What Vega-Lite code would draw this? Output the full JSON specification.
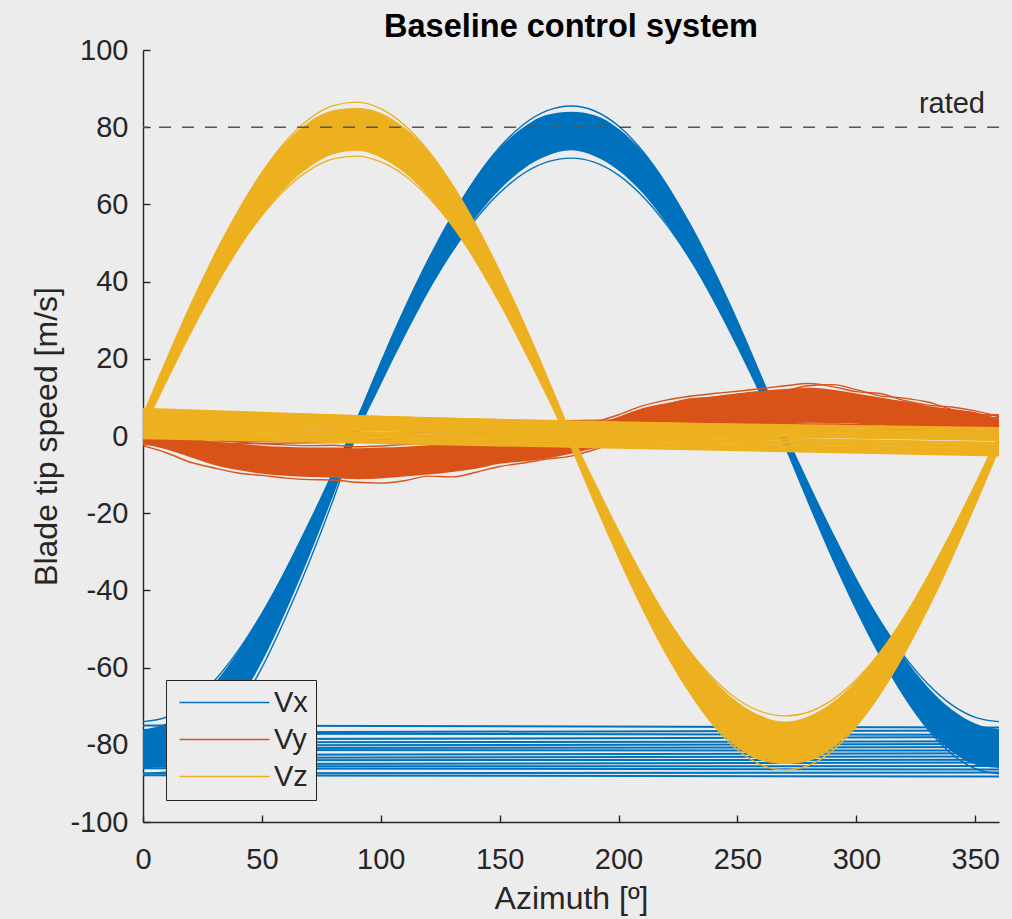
{
 "$schema": "https://vega.github.io/schema/vega-lite/v6.json",
 "width": 856,
 "height": 772,
 "autosize": "none",
 "padding": {"left": 143, "top": 50, "right": 13, "bottom": 97},
 "background": "#ECECEC",
 "config": {
  "view": {"stroke": null},
  "font": "Liberation Sans",
  "axis": {"grid": false, "domainColor": "#262626", "domainWidth": 1.4, "tickColor": "#262626", "tickWidth": 1.4, "tickSize": -7, "labelFontSize": 29, "labelColor": "#262626", "labelFont": "Liberation Sans", "titleFont": "Liberation Sans", "titleFontSize": 32, "titleFontWeight": "normal", "titleColor": "#262626", "labelFlush": false, "labelExpr": "'' + datum.value"},
  "axisX": {"labelPadding": 30, "titlePadding": 9},
  "axisY": {"labelPadding": 22, "titlePadding": 6}
 },
 "title": {"text": "Baseline control system", "fontSize": 32.5, "fontWeight": "bold", "font": "Liberation Sans", "color": "#000000", "anchor": "middle", "frame": "group", "offset": 4, "dy": 11},
 "datasets": {
  "band": [
   {"c":"Vx","a":0,"lo":-86.0,"hi":-76.0},{"c":"Vx","a":10,"lo":-85.5,"hi":-74.4},{"c":"Vx","a":20,"lo":-82.5,"hi":-70.4},{"c":"Vx","a":30,"lo":-76.5,"hi":-64.1},{"c":"Vx","a":40,"lo":-69.0,"hi":-55.8},{"c":"Vx","a":50,"lo":-58.5,"hi":-45.7},{"c":"Vx","a":60,"lo":-45.5,"hi":-34.3},{"c":"Vx","a":70,"lo":-31.0,"hi":-21.9},{"c":"Vx","a":80,"lo":-15.5,"hi":-8.9},{"c":"Vx","a":90,"lo":0.3,"hi":4.9},{"c":"Vx","a":100,"lo":13.3,"hi":19.5},{"c":"Vx","a":110,"lo":25.7,"hi":33.4},{"c":"Vx","a":120,"lo":37.3,"hi":46.1},{"c":"Vx","a":130,"lo":47.6,"hi":57.4},{"c":"Vx","a":140,"lo":56.6,"hi":67.0},{"c":"Vx","a":150,"lo":63.8,"hi":74.6},{"c":"Vx","a":160,"lo":69.2,"hi":80.0},{"c":"Vx","a":170,"lo":72.6,"hi":83.2},{"c":"Vx","a":180,"lo":74.0,"hi":84.0},{"c":"Vx","a":190,"lo":72.5,"hi":83.1},{"c":"Vx","a":200,"lo":68.8,"hi":79.6},{"c":"Vx","a":210,"lo":63.0,"hi":73.7},{"c":"Vx","a":220,"lo":55.2,"hi":65.5},{"c":"Vx","a":230,"lo":45.7,"hi":55.3},{"c":"Vx","a":240,"lo":34.8,"hi":43.4},{"c":"Vx","a":250,"lo":22.8,"hi":30.2},{"c":"Vx","a":260,"lo":10.1,"hi":15.9},{"c":"Vx","a":270,"lo":-3.2,"hi":1.2},{"c":"Vx","a":280,"lo":-17.9,"hi":-12.1},{"c":"Vx","a":290,"lo":-32.2,"hi":-24.8},{"c":"Vx","a":300,"lo":-45.4,"hi":-36.8},{"c":"Vx","a":310,"lo":-57.3,"hi":-47.7},{"c":"Vx","a":320,"lo":-67.5,"hi":-57.2},{"c":"Vx","a":330,"lo":-75.7,"hi":-65.0},{"c":"Vx","a":340,"lo":-81.6,"hi":-70.8},{"c":"Vx","a":350,"lo":-85.1,"hi":-74.5},{"c":"Vx","a":360,"lo":-86.0,"hi":-76.0},
   {"c":"Vy","a":0,"lo":-2.0,"hi":1.0},{"c":"Vy","a":10,"lo":-3.5,"hi":0.0},{"c":"Vy","a":20,"lo":-5.5,"hi":-0.5},{"c":"Vy","a":30,"lo":-7.5,"hi":-1.5},{"c":"Vy","a":40,"lo":-8.8,"hi":-2.0},{"c":"Vy","a":50,"lo":-9.8,"hi":-2.5},{"c":"Vy","a":60,"lo":-10.3,"hi":-2.8},{"c":"Vy","a":70,"lo":-10.6,"hi":-3.0},{"c":"Vy","a":80,"lo":-10.8,"hi":-3.0},{"c":"Vy","a":90,"lo":-11.2,"hi":-3.2},{"c":"Vy","a":100,"lo":-11.0,"hi":-3.0},{"c":"Vy","a":110,"lo":-10.5,"hi":-2.8},{"c":"Vy","a":120,"lo":-10.0,"hi":-2.4},{"c":"Vy","a":130,"lo":-9.3,"hi":-2.0},{"c":"Vy","a":140,"lo":-8.5,"hi":-1.6},{"c":"Vy","a":150,"lo":-7.2,"hi":-1.0},{"c":"Vy","a":160,"lo":-6.6,"hi":-0.5},{"c":"Vy","a":170,"lo":-5.8,"hi":0.0},{"c":"Vy","a":180,"lo":-4.6,"hi":1.0},{"c":"Vy","a":190,"lo":-3.2,"hi":2.8},{"c":"Vy","a":200,"lo":-1.8,"hi":5.0},{"c":"Vy","a":210,"lo":-0.5,"hi":7.2},{"c":"Vy","a":220,"lo":0.5,"hi":8.5},{"c":"Vy","a":230,"lo":1.5,"hi":9.5},{"c":"Vy","a":240,"lo":2.0,"hi":10.3},{"c":"Vy","a":250,"lo":2.5,"hi":11.0},{"c":"Vy","a":260,"lo":3.0,"hi":11.7},{"c":"Vy","a":270,"lo":3.2,"hi":12.2},{"c":"Vy","a":280,"lo":3.5,"hi":12.5},{"c":"Vy","a":290,"lo":3.4,"hi":12.0},{"c":"Vy","a":300,"lo":3.2,"hi":11.0},{"c":"Vy","a":310,"lo":2.8,"hi":10.0},{"c":"Vy","a":320,"lo":2.2,"hi":9.0},{"c":"Vy","a":330,"lo":1.8,"hi":7.8},{"c":"Vy","a":340,"lo":1.2,"hi":7.0},{"c":"Vy","a":350,"lo":0.5,"hi":6.0},{"c":"Vy","a":360,"lo":0.0,"hi":4.5},
   {"c":"Vz","a":0,"lo":1.3,"hi":5.9},{"c":"Vz","a":10,"lo":14.0,"hi":20.4},{"c":"Vz","a":20,"lo":26.3,"hi":34.3},{"c":"Vz","a":30,"lo":37.8,"hi":47.2},{"c":"Vz","a":40,"lo":48.2,"hi":58.6},{"c":"Vz","a":50,"lo":57.1,"hi":68.4},{"c":"Vz","a":60,"lo":64.4,"hi":76.0},{"c":"Vz","a":70,"lo":69.7,"hi":81.5},{"c":"Vz","a":80,"lo":73.0,"hi":84.4},{"c":"Vz","a":90,"lo":73.9,"hi":85.0},{"c":"Vz","a":100,"lo":72.1,"hi":83.7},{"c":"Vz","a":110,"lo":68.2,"hi":79.9},{"c":"Vz","a":120,"lo":62.2,"hi":73.8},{"c":"Vz","a":130,"lo":54.4,"hi":65.4},{"c":"Vz","a":140,"lo":44.9,"hi":55.1},{"c":"Vz","a":150,"lo":34.1,"hi":43.1},{"c":"Vz","a":160,"lo":22.3,"hi":29.9},{"c":"Vz","a":170,"lo":9.9,"hi":15.7},{"c":"Vz","a":180,"lo":-3.3,"hi":1.1},{"c":"Vz","a":190,"lo":-17.9,"hi":-11.8},{"c":"Vz","a":200,"lo":-31.9,"hi":-24.2},{"c":"Vz","a":210,"lo":-45.0,"hi":-35.8},{"c":"Vz","a":220,"lo":-56.8,"hi":-46.5},{"c":"Vz","a":230,"lo":-66.8,"hi":-55.7},{"c":"Vz","a":240,"lo":-74.8,"hi":-63.2},{"c":"Vz","a":250,"lo":-80.7,"hi":-68.9},{"c":"Vz","a":260,"lo":-84.1,"hi":-72.5},{"c":"Vz","a":270,"lo":-85.0,"hi":-74.0},{"c":"Vz","a":280,"lo":-84.2,"hi":-72.6},{"c":"Vz","a":290,"lo":-80.8,"hi":-69.0},{"c":"Vz","a":300,"lo":-75.0,"hi":-63.4},{"c":"Vz","a":310,"lo":-67.0,"hi":-55.9},{"c":"Vz","a":320,"lo":-57.0,"hi":-46.7},{"c":"Vz","a":330,"lo":-45.3,"hi":-36.1},{"c":"Vz","a":340,"lo":-32.3,"hi":-24.5},{"c":"Vz","a":350,"lo":-18.3,"hi":-12.1},{"c":"Vz","a":360,"lo":-3.7,"hi":0.7}
  ],
  "lines": [
   {"c":"Vx","k":"x1","a":0,"v":-87.5},{"c":"Vx","k":"x1","a":10,"v":-87.0},{"c":"Vx","k":"x1","a":20,"v":-84.0},{"c":"Vx","k":"x1","a":30,"v":-78.0},{"c":"Vx","k":"x1","a":40,"v":-70.5},{"c":"Vx","k":"x1","a":50,"v":-60.0},{"c":"Vx","k":"x1","a":60,"v":-47.0},{"c":"Vx","k":"x1","a":70,"v":-32.5},{"c":"Vx","k":"x1","a":80,"v":-16.5},{"c":"Vx","k":"x1","a":90,"v":1.0},{"c":"Vx","k":"x1","a":100,"v":17.7},{"c":"Vx","k":"x1","a":110,"v":31.9},{"c":"Vx","k":"x1","a":120,"v":45.1},{"c":"Vx","k":"x1","a":130,"v":56.8},{"c":"Vx","k":"x1","a":140,"v":66.8},{"c":"Vx","k":"x1","a":150,"v":74.8},{"c":"Vx","k":"x1","a":160,"v":80.7},{"c":"Vx","k":"x1","a":170,"v":84.3},{"c":"Vx","k":"x1","a":180,"v":85.5},{"c":"Vx","k":"x1","a":190,"v":84.2},{"c":"Vx","k":"x1","a":200,"v":80.3},{"c":"Vx","k":"x1","a":210,"v":73.9},{"c":"Vx","k":"x1","a":220,"v":65.3},{"c":"Vx","k":"x1","a":230,"v":54.6},{"c":"Vx","k":"x1","a":240,"v":42.3},{"c":"Vx","k":"x1","a":250,"v":28.6},{"c":"Vx","k":"x1","a":260,"v":14.0},{"c":"Vx","k":"x1","a":270,"v":-1.0},{"c":"Vx","k":"x1","a":280,"v":-16.0},{"c":"Vx","k":"x1","a":290,"v":-30.6},{"c":"Vx","k":"x1","a":300,"v":-44.3},{"c":"Vx","k":"x1","a":310,"v":-56.6},{"c":"Vx","k":"x1","a":320,"v":-67.3},{"c":"Vx","k":"x1","a":330,"v":-75.9},{"c":"Vx","k":"x1","a":340,"v":-82.3},{"c":"Vx","k":"x1","a":350,"v":-86.2},{"c":"Vx","k":"x1","a":360,"v":-87.5},
   {"c":"Vx","k":"x2","a":0,"v":-74.0},{"c":"Vx","k":"x2","a":10,"v":-72.8},{"c":"Vx","k":"x2","a":20,"v":-69.2},{"c":"Vx","k":"x2","a":30,"v":-63.4},{"c":"Vx","k":"x2","a":40,"v":-55.6},{"c":"Vx","k":"x2","a":50,"v":-46.0},{"c":"Vx","k":"x2","a":60,"v":-35.1},{"c":"Vx","k":"x2","a":70,"v":-23.1},{"c":"Vx","k":"x2","a":80,"v":-10.6},{"c":"Vx","k":"x2","a":90,"v":2.2},{"c":"Vx","k":"x2","a":100,"v":14.8},{"c":"Vx","k":"x2","a":110,"v":26.8},{"c":"Vx","k":"x2","a":120,"v":37.9},{"c":"Vx","k":"x2","a":130,"v":47.8},{"c":"Vx","k":"x2","a":140,"v":56.2},{"c":"Vx","k":"x2","a":150,"v":63.0},{"c":"Vx","k":"x2","a":160,"v":68.0},{"c":"Vx","k":"x2","a":170,"v":71.0},{"c":"Vx","k":"x2","a":180,"v":72.0},{"c":"Vx","k":"x2","a":190,"v":70.9},{"c":"Vx","k":"x2","a":200,"v":67.6},{"c":"Vx","k":"x2","a":210,"v":62.2},{"c":"Vx","k":"x2","a":220,"v":54.9},{"c":"Vx","k":"x2","a":230,"v":45.9},{"c":"Vx","k":"x2","a":240,"v":35.5},{"c":"Vx","k":"x2","a":250,"v":24.0},{"c":"Vx","k":"x2","a":260,"v":11.7},{"c":"Vx","k":"x2","a":270,"v":-1.0},{"c":"Vx","k":"x2","a":280,"v":-13.7},{"c":"Vx","k":"x2","a":290,"v":-26.0},{"c":"Vx","k":"x2","a":300,"v":-37.5},{"c":"Vx","k":"x2","a":310,"v":-47.9},{"c":"Vx","k":"x2","a":320,"v":-56.9},{"c":"Vx","k":"x2","a":330,"v":-64.2},{"c":"Vx","k":"x2","a":340,"v":-69.6},{"c":"Vx","k":"x2","a":350,"v":-72.9},{"c":"Vx","k":"x2","a":360,"v":-74.0},
   {"c":"Vy","k":"y1","a":0,"v":-2.5},{"c":"Vy","k":"y1","a":10,"v":-4.4},{"c":"Vy","k":"y1","a":20,"v":-6.8},{"c":"Vy","k":"y1","a":30,"v":-8.3},{"c":"Vy","k":"y1","a":40,"v":-9.6},{"c":"Vy","k":"y1","a":50,"v":-10.2},{"c":"Vy","k":"y1","a":60,"v":-10.9},{"c":"Vy","k":"y1","a":70,"v":-11.3},{"c":"Vy","k":"y1","a":80,"v":-11.4},{"c":"Vy","k":"y1","a":90,"v":-12.0},{"c":"Vy","k":"y1","a":100,"v":-12.2},{"c":"Vy","k":"y1","a":110,"v":-11.6},{"c":"Vy","k":"y1","a":120,"v":-10.4},{"c":"Vy","k":"y1","a":130,"v":-10.6},{"c":"Vy","k":"y1","a":140,"v":-9.4},{"c":"Vy","k":"y1","a":150,"v":-7.9},{"c":"Vy","k":"y1","a":160,"v":-7.0},{"c":"Vy","k":"y1","a":170,"v":-6.0},{"c":"Vy","k":"y1","a":180,"v":-5.2},{"c":"Vy","k":"y1","a":190,"v":-3.5},{"c":"Vy","k":"y1","a":200,"v":-1.5},{"c":"Vy","k":"y1","a":210,"v":0.0},{"c":"Vy","k":"y1","a":220,"v":1.2},{"c":"Vy","k":"y1","a":230,"v":2.0},{"c":"Vy","k":"y1","a":240,"v":2.3},{"c":"Vy","k":"y1","a":250,"v":2.6},{"c":"Vy","k":"y1","a":260,"v":2.8},{"c":"Vy","k":"y1","a":270,"v":3.0},{"c":"Vy","k":"y1","a":280,"v":3.0},{"c":"Vy","k":"y1","a":290,"v":3.1},{"c":"Vy","k":"y1","a":300,"v":2.9},{"c":"Vy","k":"y1","a":310,"v":2.5},{"c":"Vy","k":"y1","a":320,"v":2.0},{"c":"Vy","k":"y1","a":330,"v":1.6},{"c":"Vy","k":"y1","a":340,"v":1.0},{"c":"Vy","k":"y1","a":350,"v":0.4},{"c":"Vy","k":"y1","a":360,"v":-0.2},
   {"c":"Vy","k":"y2","a":0,"v":1.5},{"c":"Vy","k":"y2","a":10,"v":0.8},{"c":"Vy","k":"y2","a":20,"v":-0.2},{"c":"Vy","k":"y2","a":30,"v":-1.0},{"c":"Vy","k":"y2","a":40,"v":-1.6},{"c":"Vy","k":"y2","a":50,"v":-2.0},{"c":"Vy","k":"y2","a":60,"v":-2.3},{"c":"Vy","k":"y2","a":70,"v":-2.5},{"c":"Vy","k":"y2","a":80,"v":-2.4},{"c":"Vy","k":"y2","a":90,"v":-2.8},{"c":"Vy","k":"y2","a":100,"v":-2.6},{"c":"Vy","k":"y2","a":110,"v":-2.2},{"c":"Vy","k":"y2","a":120,"v":-2.0},{"c":"Vy","k":"y2","a":130,"v":-1.6},{"c":"Vy","k":"y2","a":140,"v":-1.0},{"c":"Vy","k":"y2","a":150,"v":-0.6},{"c":"Vy","k":"y2","a":160,"v":0.0},{"c":"Vy","k":"y2","a":170,"v":0.5},{"c":"Vy","k":"y2","a":180,"v":1.5},{"c":"Vy","k":"y2","a":190,"v":3.5},{"c":"Vy","k":"y2","a":200,"v":5.5},{"c":"Vy","k":"y2","a":210,"v":7.8},{"c":"Vy","k":"y2","a":220,"v":9.3},{"c":"Vy","k":"y2","a":230,"v":10.3},{"c":"Vy","k":"y2","a":240,"v":11.0},{"c":"Vy","k":"y2","a":250,"v":11.6},{"c":"Vy","k":"y2","a":260,"v":12.3},{"c":"Vy","k":"y2","a":270,"v":13.0},{"c":"Vy","k":"y2","a":280,"v":13.6},{"c":"Vy","k":"y2","a":290,"v":12.8},{"c":"Vy","k":"y2","a":300,"v":11.5},{"c":"Vy","k":"y2","a":310,"v":11.0},{"c":"Vy","k":"y2","a":320,"v":9.2},{"c":"Vy","k":"y2","a":330,"v":8.0},{"c":"Vy","k":"y2","a":340,"v":7.5},{"c":"Vy","k":"y2","a":350,"v":6.5},{"c":"Vy","k":"y2","a":360,"v":5.0},
   {"c":"Vy","k":"y3","a":0,"v":0.5},{"c":"Vy","k":"y3","a":10,"v":-1.5},{"c":"Vy","k":"y3","a":20,"v":-3.0},{"c":"Vy","k":"y3","a":30,"v":-4.6},{"c":"Vy","k":"y3","a":40,"v":-5.4},{"c":"Vy","k":"y3","a":50,"v":-5.0},{"c":"Vy","k":"y3","a":60,"v":-5.8},{"c":"Vy","k":"y3","a":70,"v":-6.5},{"c":"Vy","k":"y3","a":80,"v":-5.9},{"c":"Vy","k":"y3","a":90,"v":-6.4},{"c":"Vy","k":"y3","a":100,"v":-7.2},{"c":"Vy","k":"y3","a":110,"v":-6.6},{"c":"Vy","k":"y3","a":120,"v":-5.6},{"c":"Vy","k":"y3","a":130,"v":-5.9},{"c":"Vy","k":"y3","a":140,"v":-4.8},{"c":"Vy","k":"y3","a":150,"v":-3.6},{"c":"Vy","k":"y3","a":160,"v":-3.2},{"c":"Vy","k":"y3","a":170,"v":-2.0},{"c":"Vy","k":"y3","a":180,"v":-0.6},{"c":"Vy","k":"y3","a":190,"v":1.0},{"c":"Vy","k":"y3","a":200,"v":3.0},{"c":"Vy","k":"y3","a":210,"v":4.8},{"c":"Vy","k":"y3","a":220,"v":6.4},{"c":"Vy","k":"y3","a":230,"v":7.0},{"c":"Vy","k":"y3","a":240,"v":8.2},{"c":"Vy","k":"y3","a":250,"v":8.6},{"c":"Vy","k":"y3","a":260,"v":9.5},{"c":"Vy","k":"y3","a":270,"v":10.4},{"c":"Vy","k":"y3","a":280,"v":10.1},{"c":"Vy","k":"y3","a":290,"v":10.8},{"c":"Vy","k":"y3","a":300,"v":9.6},{"c":"Vy","k":"y3","a":310,"v":8.8},{"c":"Vy","k":"y3","a":320,"v":7.0},{"c":"Vy","k":"y3","a":330,"v":6.6},{"c":"Vy","k":"y3","a":340,"v":5.2},{"c":"Vy","k":"y3","a":350,"v":4.0},{"c":"Vy","k":"y3","a":360,"v":2.5},
   {"c":"Vy","k":"y4","a":0,"v":1.0},{"c":"Vy","k":"y4","a":10,"v":-0.5},{"c":"Vy","k":"y4","a":20,"v":-1.5},{"c":"Vy","k":"y4","a":30,"v":-2.5},{"c":"Vy","k":"y4","a":40,"v":-3.2},{"c":"Vy","k":"y4","a":50,"v":-3.0},{"c":"Vy","k":"y4","a":60,"v":-3.8},{"c":"Vy","k":"y4","a":70,"v":-4.2},{"c":"Vy","k":"y4","a":80,"v":-3.6},{"c":"Vy","k":"y4","a":90,"v":-4.4},{"c":"Vy","k":"y4","a":100,"v":-4.0},{"c":"Vy","k":"y4","a":110,"v":-3.5},{"c":"Vy","k":"y4","a":120,"v":-3.6},{"c":"Vy","k":"y4","a":130,"v":-2.6},{"c":"Vy","k":"y4","a":140,"v":-2.4},{"c":"Vy","k":"y4","a":150,"v":-1.8},{"c":"Vy","k":"y4","a":160,"v":-1.2},{"c":"Vy","k":"y4","a":170,"v":-0.8},{"c":"Vy","k":"y4","a":180,"v":0.5},{"c":"Vy","k":"y4","a":190,"v":2.2},{"c":"Vy","k":"y4","a":200,"v":4.2},{"c":"Vy","k":"y4","a":210,"v":6.8},{"c":"Vy","k":"y4","a":220,"v":8.2},{"c":"Vy","k":"y4","a":230,"v":9.6},{"c":"Vy","k":"y4","a":240,"v":10.0},{"c":"Vy","k":"y4","a":250,"v":10.8},{"c":"Vy","k":"y4","a":260,"v":11.4},{"c":"Vy","k":"y4","a":270,"v":11.8},{"c":"Vy","k":"y4","a":280,"v":13.0},{"c":"Vy","k":"y4","a":290,"v":13.3},{"c":"Vy","k":"y4","a":300,"v":12.0},{"c":"Vy","k":"y4","a":310,"v":10.4},{"c":"Vy","k":"y4","a":320,"v":9.8},{"c":"Vy","k":"y4","a":330,"v":8.8},{"c":"Vy","k":"y4","a":340,"v":6.9},{"c":"Vy","k":"y4","a":350,"v":6.0},{"c":"Vy","k":"y4","a":360,"v":4.2},
   {"c":"Vz","k":"z1","a":0,"v":3.8},{"c":"Vz","k":"z1","a":10,"v":18.6},{"c":"Vz","k":"z1","a":20,"v":32.8},{"c":"Vz","k":"z1","a":30,"v":46.1},{"c":"Vz","k":"z1","a":40,"v":58.0},{"c":"Vz","k":"z1","a":50,"v":68.2},{"c":"Vz","k":"z1","a":60,"v":76.3},{"c":"Vz","k":"z1","a":70,"v":82.2},{"c":"Vz","k":"z1","a":80,"v":85.6},{"c":"Vz","k":"z1","a":90,"v":86.5},{"c":"Vz","k":"z1","a":100,"v":84.8},{"c":"Vz","k":"z1","a":110,"v":80.5},{"c":"Vz","k":"z1","a":120,"v":73.9},{"c":"Vz","k":"z1","a":130,"v":65.1},{"c":"Vz","k":"z1","a":140,"v":54.3},{"c":"Vz","k":"z1","a":150,"v":41.9},{"c":"Vz","k":"z1","a":160,"v":28.3},{"c":"Vz","k":"z1","a":170,"v":13.8},{"c":"Vz","k":"z1","a":180,"v":-1.1},{"c":"Vz","k":"z1","a":190,"v":-16.0},{"c":"Vz","k":"z1","a":200,"v":-30.4},{"c":"Vz","k":"z1","a":210,"v":-43.9},{"c":"Vz","k":"z1","a":220,"v":-56.0},{"c":"Vz","k":"z1","a":230,"v":-66.5},{"c":"Vz","k":"z1","a":240,"v":-75.0},{"c":"Vz","k":"z1","a":250,"v":-81.3},{"c":"Vz","k":"z1","a":260,"v":-85.2},{"c":"Vz","k":"z1","a":270,"v":-86.5},{"c":"Vz","k":"z1","a":280,"v":-85.3},{"c":"Vz","k":"z1","a":290,"v":-81.5},{"c":"Vz","k":"z1","a":300,"v":-75.2},{"c":"Vz","k":"z1","a":310,"v":-66.8},{"c":"Vz","k":"z1","a":320,"v":-56.3},{"c":"Vz","k":"z1","a":330,"v":-44.2},{"c":"Vz","k":"z1","a":340,"v":-30.7},{"c":"Vz","k":"z1","a":350,"v":-16.4},{"c":"Vz","k":"z1","a":360,"v":-1.5},
   {"c":"Vz","k":"z2","a":0,"v":3.2},{"c":"Vz","k":"z2","a":10,"v":15.6},{"c":"Vz","k":"z2","a":20,"v":27.5},{"c":"Vz","k":"z2","a":30,"v":38.6},{"c":"Vz","k":"z2","a":40,"v":48.6},{"c":"Vz","k":"z2","a":50,"v":57.1},{"c":"Vz","k":"z2","a":60,"v":64.0},{"c":"Vz","k":"z2","a":70,"v":68.9},{"c":"Vz","k":"z2","a":80,"v":71.8},{"c":"Vz","k":"z2","a":90,"v":72.5},{"c":"Vz","k":"z2","a":100,"v":71.0},{"c":"Vz","k":"z2","a":110,"v":67.5},{"c":"Vz","k":"z2","a":120,"v":61.9},{"c":"Vz","k":"z2","a":130,"v":54.5},{"c":"Vz","k":"z2","a":140,"v":45.5},{"c":"Vz","k":"z2","a":150,"v":35.1},{"c":"Vz","k":"z2","a":160,"v":23.7},{"c":"Vz","k":"z2","a":170,"v":11.5},{"c":"Vz","k":"z2","a":180,"v":-1.0},{"c":"Vz","k":"z2","a":190,"v":-13.4},{"c":"Vz","k":"z2","a":200,"v":-25.5},{"c":"Vz","k":"z2","a":210,"v":-36.8},{"c":"Vz","k":"z2","a":220,"v":-47.0},{"c":"Vz","k":"z2","a":230,"v":-55.8},{"c":"Vz","k":"z2","a":240,"v":-62.9},{"c":"Vz","k":"z2","a":250,"v":-68.2},{"c":"Vz","k":"z2","a":260,"v":-71.4},{"c":"Vz","k":"z2","a":270,"v":-72.5},{"c":"Vz","k":"z2","a":280,"v":-71.5},{"c":"Vz","k":"z2","a":290,"v":-68.3},{"c":"Vz","k":"z2","a":300,"v":-63.1},{"c":"Vz","k":"z2","a":310,"v":-56.0},{"c":"Vz","k":"z2","a":320,"v":-47.2},{"c":"Vz","k":"z2","a":330,"v":-37.0},{"c":"Vz","k":"z2","a":340,"v":-25.8},{"c":"Vz","k":"z2","a":350,"v":-13.7},{"c":"Vz","k":"z2","a":360,"v":-1.3}
  ],
  "wraps": [
   {"c":"Vx","e":-75.5,"s":-75.0},{"c":"Vx","e":-76.3,"s":-76.8},{"c":"Vx","e":-77.4,"s":-77.1},{"c":"Vx","e":-78.0,"s":-78.6},{"c":"Vx","e":-79.1,"s":-79.4},{"c":"Vx","e":-79.8,"s":-80.2},{"c":"Vx","e":-80.6,"s":-80.9},{"c":"Vx","e":-81.5,"s":-81.3},{"c":"Vx","e":-82.2,"s":-82.6},{"c":"Vx","e":-83.0,"s":-83.4},{"c":"Vx","e":-83.9,"s":-84.0},{"c":"Vx","e":-84.6,"s":-85.0},{"c":"Vx","e":-85.5,"s":-85.6},{"c":"Vx","e":-86.4,"s":-86.1},{"c":"Vx","e":-87.2,"s":-87.4},{"c":"Vx","e":-88.2,"s":-87.9},
   {"c":"Vy","e":0.5,"s":-2.3},{"c":"Vy","e":1.2,"s":-1.8},{"c":"Vy","e":2.0,"s":-1.2},{"c":"Vy","e":2.8,"s":-0.7},{"c":"Vy","e":3.5,"s":-0.2},{"c":"Vy","e":4.2,"s":0.4},{"c":"Vy","e":4.8,"s":1.0},{"c":"Vy","e":5.4,"s":1.8},{"c":"Vy","e":5.5,"s":2.5},
   {"c":"Vz","e":-0.5,"s":7.0},{"c":"Vz","e":0.5,"s":6.6},{"c":"Vz","e":1.5,"s":6.0},{"c":"Vz","e":2.0,"s":5.0},{"c":"Vz","e":0.0,"s":5.5},{"c":"Vz","e":1.0,"s":4.5},{"c":"Vz","e":-1.0,"s":4.0},{"c":"Vz","e":0.5,"s":3.5},{"c":"Vz","e":-2.0,"s":3.0},{"c":"Vz","e":-1.0,"s":2.5},{"c":"Vz","e":-3.0,"s":2.0},{"c":"Vz","e":-2.5,"s":1.5},{"c":"Vz","e":-4.0,"s":1.0},{"c":"Vz","e":-3.5,"s":0.5},{"c":"Vz","e":-4.5,"s":0.0},{"c":"Vz","e":-5.0,"s":-0.5},{"c":"Vz","e":-0.3,"s":3.2},{"c":"Vz","e":-1.8,"s":1.8},{"c":"Vz","e":-2.8,"s":0.8},{"c":"Vz","e":-4.0,"s":-0.2},{"c":"Vz","e":0.0,"s":2.2},{"c":"Vz","e":0.0,"s":4.2},{"c":"Vz","e":-0.5,"s":5.0},{"c":"Vz","e":-0.2,"s":6.0}
  ]
 },
 "layer": [
  {
   "data": {"name": "band"},
   "transform": [{"filter": "datum.c === 'Vx'"}],
   "mark": {"type": "area", "interpolate": "monotone", "color": "#0072BD"},
   "encoding": {
    "x": {"field": "a", "type": "quantitative", "scale": {"domain": [0, 360], "nice": false, "zero": false}, "title": "Azimuth [º]", "axis": {"values": [0, 50, 100, 150, 200, 250, 300, 350]}},
    "y": {"field": "lo", "type": "quantitative", "scale": {"domain": [-100, 100], "nice": false}, "title": "Blade tip speed [m/s]", "axis": {"values": [-100, -80, -60, -40, -20, 0, 20, 40, 60, 80, 100]}},
    "y2": {"field": "hi"}
   }
  },
  {
   "data": {"name": "lines"},
   "transform": [{"filter": "datum.c === 'Vx'"}],
   "mark": {"type": "line", "interpolate": "monotone", "strokeWidth": 1.4},
   "encoding": {
    "x": {"field": "a", "type": "quantitative", "title": "Azimuth [º]"},
    "y": {"field": "v", "type": "quantitative", "title": "Blade tip speed [m/s]"},
    "detail": {"field": "k"},
    "color": {"field": "c", "type": "nominal", "scale": {"domain": ["Vx", "Vy", "Vz"], "range": ["#0072BD", "#D95319", "#EDB120"]},
     "legend": {"title": null, "orient": "none", "legendX": 23, "legendY": 630, "fillColor": "#ECECEC", "strokeColor": "#262626", "padding": 8, "symbolType": "M-1,0H9", "symbolSize": 324, "symbolStrokeWidth": 1.5, "labelFontSize": 29, "labelFont": "Liberation Sans", "labelColor": "#262626", "labelOffset": 71, "rowPadding": 7, "cornerRadius": 0}}
   }
  },
  {
   "data": {"name": "wraps"},
   "transform": [{"filter": "datum.c === 'Vx'"}],
   "mark": {"type": "rule", "strokeWidth": 2, "color": "#0072BD"},
   "encoding": {
    "x": {"datum": 360, "type": "quantitative", "title": "Azimuth [º]"},
    "x2": {"datum": 0},
    "y": {"field": "e", "type": "quantitative", "title": "Blade tip speed [m/s]"},
    "y2": {"field": "s"}
   }
  },
  {
   "data": {"name": "band"},
   "transform": [{"filter": "datum.c === 'Vy'"}],
   "mark": {"type": "area", "interpolate": "monotone", "color": "#D95319"},
   "encoding": {
    "x": {"field": "a", "type": "quantitative", "title": "Azimuth [º]"},
    "y": {"field": "lo", "type": "quantitative", "title": "Blade tip speed [m/s]"},
    "y2": {"field": "hi"}
   }
  },
  {
   "data": {"name": "lines"},
   "transform": [{"filter": "datum.c === 'Vy'"}],
   "mark": {"type": "line", "interpolate": "monotone", "strokeWidth": 1.4},
   "encoding": {
    "x": {"field": "a", "type": "quantitative", "title": "Azimuth [º]"},
    "y": {"field": "v", "type": "quantitative", "title": "Blade tip speed [m/s]"},
    "detail": {"field": "k"},
    "color": {"field": "c", "type": "nominal"}
   }
  },
  {
   "data": {"name": "wraps"},
   "transform": [{"filter": "datum.c === 'Vy'"}],
   "mark": {"type": "rule", "strokeWidth": 1.4, "color": "#D95319"},
   "encoding": {
    "x": {"datum": 360, "type": "quantitative", "title": "Azimuth [º]"},
    "x2": {"datum": 0},
    "y": {"field": "e", "type": "quantitative", "title": "Blade tip speed [m/s]"},
    "y2": {"field": "s"}
   }
  },
  {
   "data": {"name": "band"},
   "transform": [{"filter": "datum.c === 'Vz'"}],
   "mark": {"type": "area", "interpolate": "monotone", "color": "#EDB120"},
   "encoding": {
    "x": {"field": "a", "type": "quantitative", "title": "Azimuth [º]"},
    "y": {"field": "lo", "type": "quantitative", "title": "Blade tip speed [m/s]"},
    "y2": {"field": "hi"}
   }
  },
  {
   "data": {"name": "lines"},
   "transform": [{"filter": "datum.c === 'Vz'"}],
   "mark": {"type": "line", "interpolate": "monotone", "strokeWidth": 1.4},
   "encoding": {
    "x": {"field": "a", "type": "quantitative", "title": "Azimuth [º]"},
    "y": {"field": "v", "type": "quantitative", "title": "Blade tip speed [m/s]"},
    "detail": {"field": "k"},
    "color": {"field": "c", "type": "nominal"}
   }
  },
  {
   "data": {"name": "wraps"},
   "transform": [{"filter": "datum.c === 'Vz'"}],
   "mark": {"type": "rule", "strokeWidth": 2.5, "color": "#EDB120"},
   "encoding": {
    "x": {"datum": 360, "type": "quantitative", "title": "Azimuth [º]"},
    "x2": {"datum": 0},
    "y": {"field": "e", "type": "quantitative", "title": "Blade tip speed [m/s]"},
    "y2": {"field": "s"}
   }
  },
  {
   "data": {"values": [{"label": "rated"}]},
   "mark": {"type": "rule", "strokeDash": [12, 11], "color": "#555555", "strokeWidth": 1.4},
   "encoding": {"y": {"datum": 80, "type": "quantitative"}}
  },
  {
   "data": {"values": [{"label": "rated"}]},
   "mark": {"type": "text", "align": "right", "baseline": "alphabetic", "dx": -14, "dy": -14, "fontSize": 29, "font": "Liberation Sans", "color": "#262626"},
   "encoding": {
    "x": {"datum": 360, "type": "quantitative"},
    "y": {"datum": 80, "type": "quantitative"},
    "text": {"field": "label"}
   }
  }
 ]
}
